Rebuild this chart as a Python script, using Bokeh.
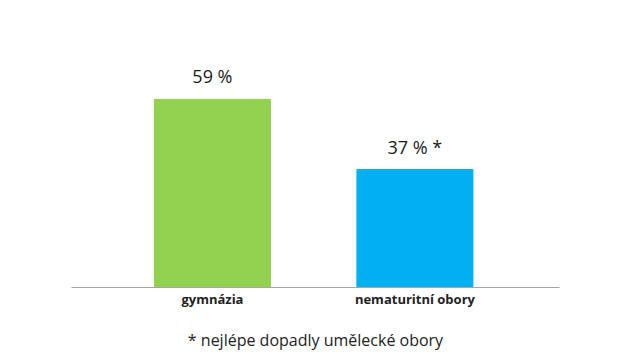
from bokeh.plotting import figure
from bokeh.models import Range1d, FixedTicker, ColumnDataSource
from bokeh.core.properties import value
from bokeh.embed import file_html
from bokeh.resources import INLINE

categories = ["gymnázia", "nematuritní obory"]
values = [59, 37]
value_labels = ["59 %", "37 % *"]
colors = ["#92d050", "#00b0f0"]
footnote = "* nejlépe dopadly umělecké obory"

xs = list(range(len(categories)))
src = ColumnDataSource(dict(x=xs, top=values, lab=value_labels, color=colors))

p = figure(width=630, height=354, output_backend="svg", toolbar_location=None,
           x_range=Range1d(-0.696, 1.714), y_range=Range1d(0, 90),
           min_border_left=71, min_border_right=71, min_border_top=0, min_border_bottom=67)
p.outline_line_color = None
p.xgrid.visible = False
p.ygrid.visible = False
p.yaxis.visible = False

p.vbar(x="x", top="top", width=0.573, bottom=0, color="color", source=src)
p.text(x="x", y="top", text="lab", source=src, text_align="center", text_baseline="bottom",
       y_offset=-11, text_font=value("Open Sans"), text_font_size="18px", text_color="#1a1a1a")

ax = p.xaxis[0]
ax.ticker = FixedTicker(ticks=xs)
ax.major_label_overrides = {i: c for i, c in zip(xs, categories)}
ax.major_tick_line_color = None
ax.minor_tick_line_color = None
ax.major_tick_in = 0
ax.major_tick_out = 0
ax.axis_line_color = "#a6a6a6"
ax.axis_line_width = 1
ax.major_label_text_font = "Open Sans"
ax.major_label_text_font_style = "bold"
ax.major_label_text_font_size = "13px"
ax.major_label_text_color = "#222222"
ax.major_label_standoff = 2
ax.axis_label = footnote
ax.axis_label_text_font = "Open Sans"
ax.axis_label_text_font_style = "normal"
ax.axis_label_text_font_size = "16px"
ax.axis_label_text_color = "#222222"
ax.axis_label_standoff = 18

open("out.html", "w").write(file_html(p, INLINE))
